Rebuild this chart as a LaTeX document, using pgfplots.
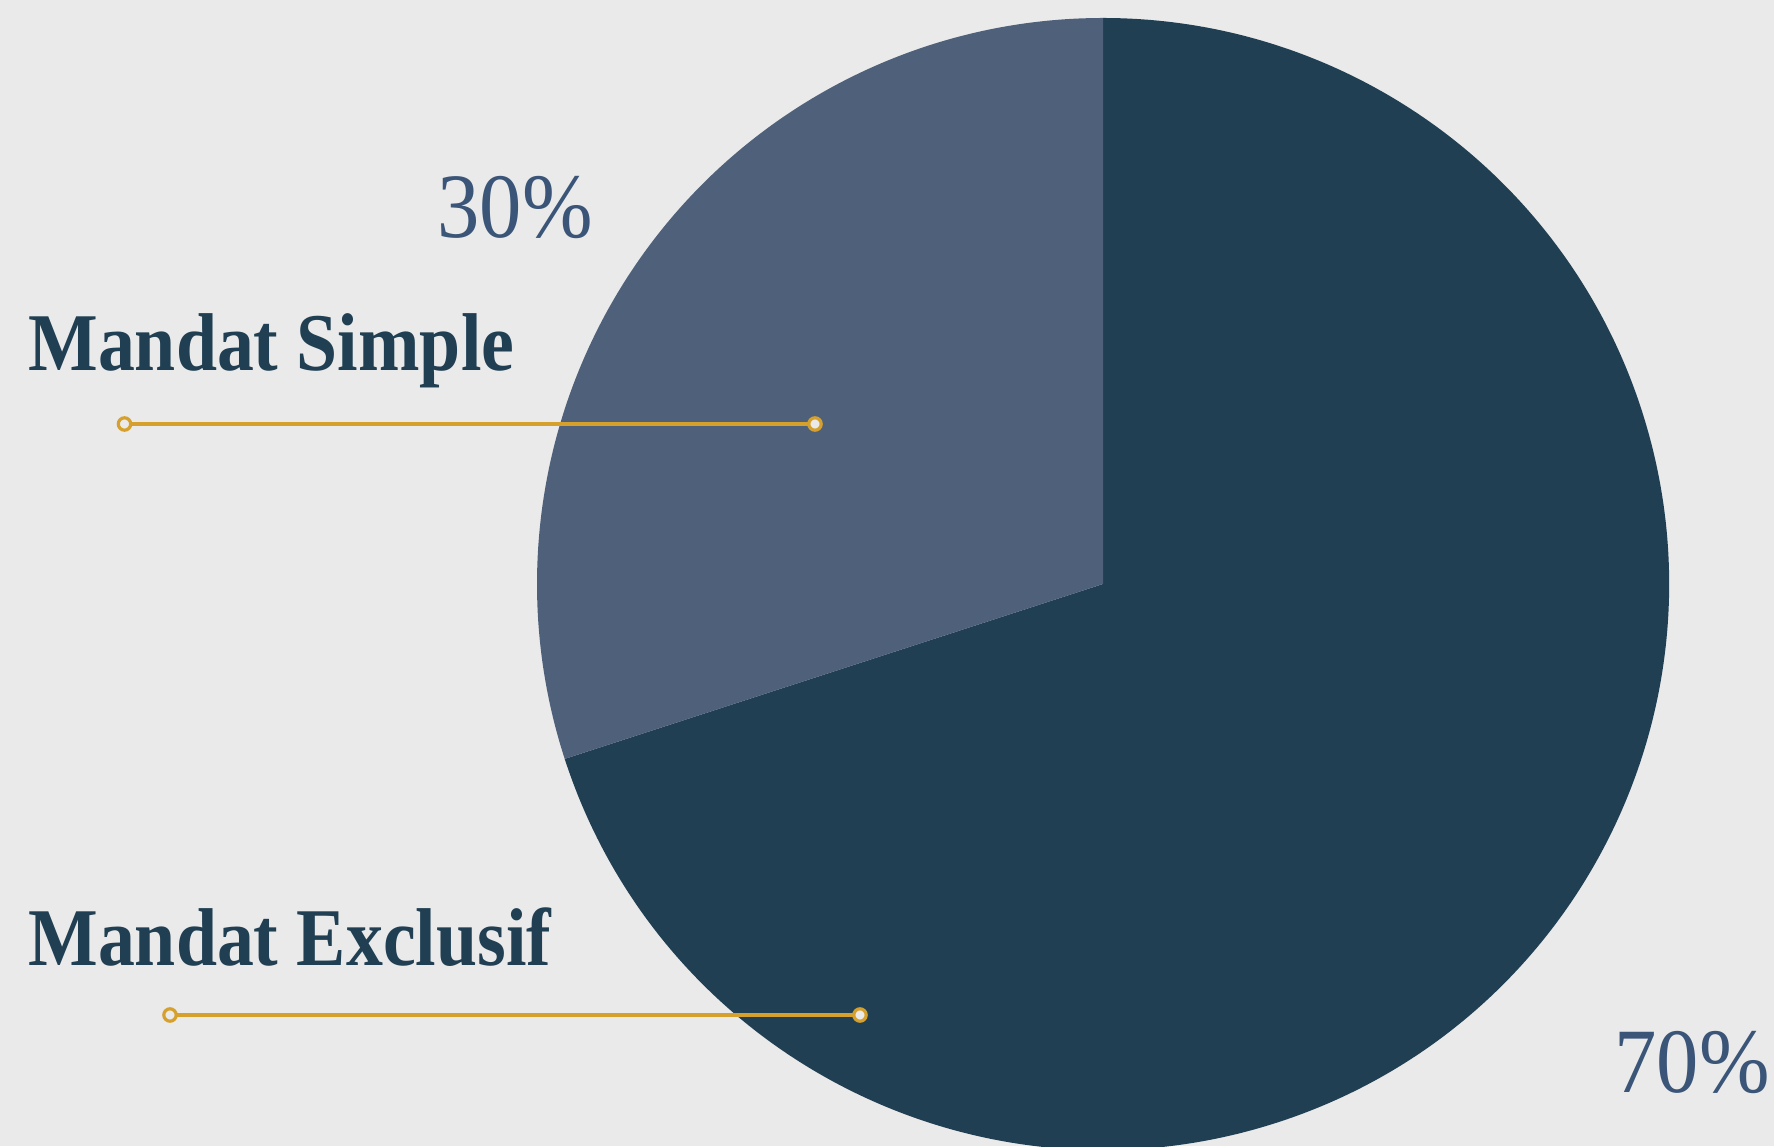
\documentclass[border=0pt]{standalone}
\usepackage{fontspec}
\setmainfont{Liberation Serif}
\usepackage{graphicx}
\usepackage{pgfplots}
\usepackage{pgfplotstable}
\pgfplotsset{compat=1.18}

\definecolor{bg}{HTML}{EAEAEA}
\definecolor{exclusif}{HTML}{203F53}
\definecolor{simple}{HTML}{4F617A}
\definecolor{pct}{HTML}{3A5578}
\definecolor{lead}{HTML}{D6A02C}

% share of each mandate type (%)
\pgfplotstableread{
label share
Simple 30
Exclusif 70
}\piedata

\begin{document}
\begin{tikzpicture}
\pgfplotstablegetelem{0}{share}\of\piedata
\pgfmathsetmacro{\endS}{90+3.6*\pgfplotsretval}
\begin{axis}[
    width=887pt, height=573pt, scale only axis,
    xmin=0, xmax=1774, ymin=0, ymax=1146,
    hide axis,
    axis background/.style={fill=bg},
    leader/.style={lead, line width=1.9pt, mark=*, mark size=3.1pt,
        mark options={fill=bg, draw=lead, line width=1.6pt}},
]
    % pie: centre (1103,562), radius 566
    \fill[exclusif] (axis cs:1103,562) -- ++(\endS:566)
        arc[start angle=\endS, end angle=450, radius=566] -- cycle;
    \fill[simple] (axis cs:1103,562) -- ++(90:566)
        arc[start angle=90, end angle=\endS, radius=566] -- cycle;

    % leader lines
    \addplot[leader] coordinates {(124.5,722) (815,722)};
    \addplot[leader] coordinates {(170,131) (860,131)};

    \node[anchor=base west, inner sep=0pt, text=pct, font=\fontsize{46}{46}\selectfont]
        at (axis cs:437,908) {\scalebox{0.92}[1]{30\%}};
    \node[anchor=base west, inner sep=0pt, text=pct, font=\fontsize{46}{46}\selectfont]
        at (axis cs:1614,54) {\scalebox{0.92}[1]{70\%}};
    \node[anchor=base west, inner sep=0pt, text=exclusif, font=\fontsize{41}{41}\selectfont\bfseries]
        at (axis cs:28,775) {\scalebox{0.9}[1]{Mandat Simple}};
    \node[anchor=base west, inner sep=0pt, text=exclusif, font=\fontsize{41}{41}\selectfont\bfseries]
        at (axis cs:28,181) {\scalebox{0.9}[1]{Mandat Exclusif}};
\end{axis}
\end{tikzpicture}
\end{document}
